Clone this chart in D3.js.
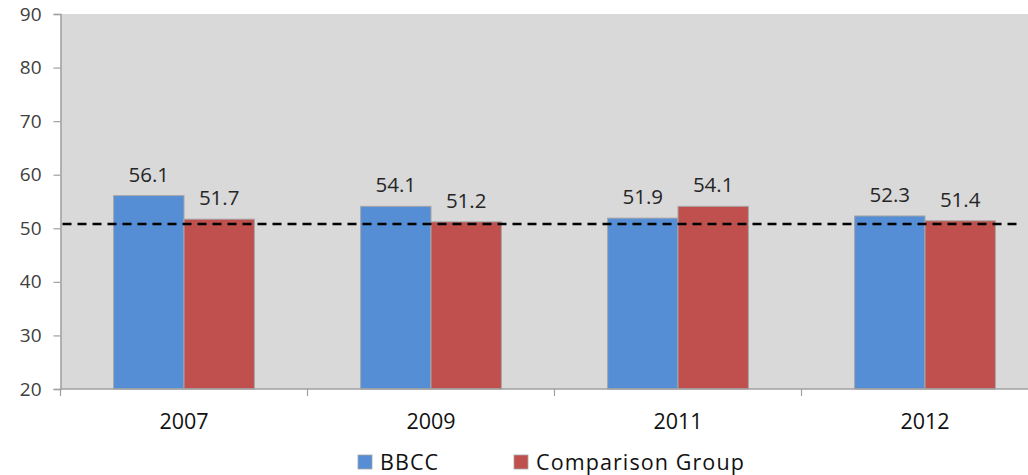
<!DOCTYPE html>
<html>
<head>
<meta charset="utf-8">
<script src="https://cdn.jsdelivr.net/npm/d3@7"></script>
<style>
  html, body { margin: 0; padding: 0; background: #fff; }
  svg { display: block; font-family: "Open Sans", "DejaVu Sans", sans-serif; }
</style>
</head>
<body>
<svg id="chart" width="1028" height="475"></svg>
<script>
// Survey results by year
const years = ["2007", "2009", "2011", "2012"];
const bbcc = [56.1, 54.1, 51.9, 52.3];
const comparison = [51.7, 51.2, 54.1, 51.4];
const seriesNames = ["BBCC", "Comparison Group"];
const seriesColors = ["#558ed5", "#c0504d"];
const yTicks = [20, 30, 40, 50, 60, 70, 80, 90];
const referenceLevel = 50.8;

const svg = d3.select("#chart");
const margin = { left: 60.5, top: 14, bottom: 389 };
const bandStep = 247;
const plotRight = margin.left + bandStep * years.length;

const x = d3.scaleBand()
  .domain(years)
  .range([margin.left, plotRight])
  .paddingInner(0.43)
  .paddingOuter(0.215);

const xs = d3.scaleBand().domain(seriesNames).range([0, x.bandwidth()]);

const y = d3.scaleLinear().domain([20, 90]).range([margin.bottom, margin.top]);

// plot background
svg.append("rect")
  .attr("x", margin.left).attr("y", margin.top)
  .attr("width", plotRight - margin.left).attr("height", margin.bottom - margin.top)
  .attr("fill", "#d9d9d9");

// bars
const rows = years.map((yr, i) => ({ year: yr, values: [bbcc[i], comparison[i]] }));
const groups = svg.append("g").selectAll("g").data(rows).join("g")
  .attr("transform", d => `translate(${x(d.year)},0)`);

groups.selectAll("rect").data(d => d.values.map((v, k) => ({ v, k })))
  .join("rect")
  .attr("x", d => xs(seriesNames[d.k]))
  .attr("y", d => y(d.v))
  .attr("width", xs.bandwidth())
  .attr("height", d => y(20) - y(d.v))
  .attr("fill", d => seriesColors[d.k])
  .attr("stroke", "#a6a6a6")
  .attr("stroke-width", 1);

groups.selectAll("text").data(d => d.values.map((v, k) => ({ v, k })))
  .join("text")
  .attr("x", d => xs(seriesNames[d.k]) + xs.bandwidth() / 2)
  .attr("y", d => y(d.v) - 14)
  .attr("text-anchor", "middle")
  .attr("font-size", 20.5)
  .attr("fill", "#262626")
  .text(d => d.v.toFixed(1));

// reference dashed line
svg.append("line")
  .attr("x1", margin.left + 2).attr("x2", 1022)
  .attr("y1", y(referenceLevel)).attr("y2", y(referenceLevel))
  .attr("stroke", "#000")
  .attr("stroke-width", 2.5)
  .attr("stroke-dasharray", "9,6");

// y axis
const yAxis = svg.append("g")
  .attr("transform", `translate(${margin.left},0)`)
  .call(d3.axisLeft(y).tickValues(yTicks).tickSize(7).tickPadding(12).tickFormat(d3.format("d")));
yAxis.select(".domain").attr("stroke", "#a0a0a0").attr("stroke-width", 1.5);
yAxis.selectAll(".tick line").attr("stroke", "#a0a0a0").attr("stroke-width", 1.2);
yAxis.selectAll(".tick text").attr("font-size", 19).attr("fill", "#404040")
  .attr("font-family", "Open Sans, DejaVu Sans, sans-serif");

// x axis with ticks between categories
const xAxisG = svg.append("g").attr("transform", `translate(0,${margin.bottom})`);
xAxisG.append("line")
  .attr("x1", margin.left).attr("x2", plotRight)
  .attr("stroke", "#a0a0a0").attr("stroke-width", 1.5);
const boundaries = d3.range(years.length + 1).map(i => margin.left + i * bandStep);
xAxisG.selectAll("line.sep").data(boundaries).join("line")
  .attr("class", "sep")
  .attr("x1", d => d).attr("x2", d => d)
  .attr("y1", 0).attr("y2", 7)
  .attr("stroke", "#a0a0a0").attr("stroke-width", 1.2);
xAxisG.selectAll("text").data(years).join("text")
  .attr("x", d => x(d) + x.bandwidth() / 2)
  .attr("y", 40)
  .attr("text-anchor", "middle")
  .attr("font-size", 21.5)
  .attr("fill", "#111")
  .text(d => d);

// legend
const legendItems = [
  { name: seriesNames[0], color: seriesColors[0], x: 358 },
  { name: seriesNames[1], color: seriesColors[1], x: 514 }
];
const legend = svg.append("g").selectAll("g").data(legendItems).join("g")
  .attr("transform", d => `translate(${d.x},455)`);
legend.append("rect")
  .attr("width", 14).attr("height", 14)
  .attr("fill", d => d.color)
  .attr("stroke", "#a6a6a6").attr("stroke-width", 0.8);
legend.append("text")
  .attr("x", 22).attr("y", 14.5)
  .attr("font-size", 21.5)
  .attr("letter-spacing", 1.1)
  .attr("fill", "#111")
  .text(d => d.name);
</script>
</body>
</html>
